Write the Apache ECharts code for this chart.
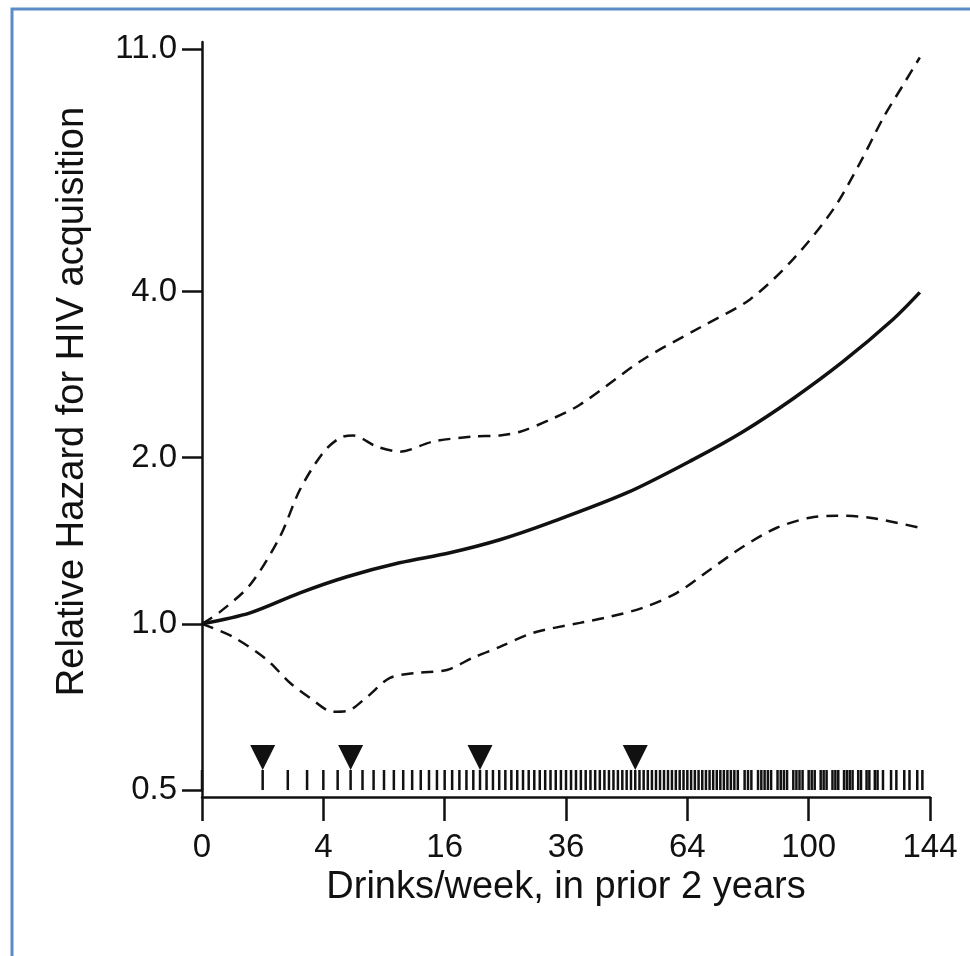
<!DOCTYPE html>
<html><head><meta charset="utf-8">
<script src="https://cdn.jsdelivr.net/npm/echarts@6/dist/echarts.min.js"></script>
<style>html,body{margin:0;padding:0;background:#fff}#c{width:970px;height:956px}</style>
</head><body><div id="c"></div>
<script>
// ---- data (x: drinks/week, y: relative hazard) ----
const xTickValues = [0, 4, 16, 36, 64, 100, 144];
const yTickValues = [0.5, 1, 2, 4, 11];

const solidX = [0, 0.63, 2.61, 5.71, 10.6, 16.7, 24.1, 32.9, 49.1, 65.5, 79.5, 94.9, 111.6, 129.7, 140];
const solidY = [1.0, 1.047, 1.138, 1.217, 1.29, 1.345, 1.42, 1.525, 1.728, 1.984, 2.229, 2.558, 2.985, 3.56, 3.986];

const upperX = [0, 0.088, 0.63, 1.65, 2.61, 3.98, 5.17, 6.19, 8.32, 10.65, 14.5, 19.95, 24.1, 27.5, 32.9, 38.8, 52.8, 67.4, 81.6, 94.9, 108.2, 117.7, 126, 133.5, 140];
const upperY = [1.0, 1.051, 1.177, 1.438, 1.751, 2.042, 2.172, 2.194, 2.094, 2.051, 2.139, 2.184, 2.194, 2.229, 2.343, 2.494, 3.01, 3.443, 3.871, 4.575, 5.63, 6.85, 8.24, 9.46, 10.62];

const lowerX = [0, 0.26, 1.15, 2.10, 3.17, 4.66, 5.71, 7.4, 9.6, 12.6, 16.3, 19.95, 24.1, 29.8, 38.8, 45.2, 52.8, 61.3, 70.1, 79.5, 89.8, 100.4, 109.6, 121.2, 140];
const lowerY = [1.0, 0.947, 0.86, 0.782, 0.734, 0.693, 0.695, 0.737, 0.798, 0.815, 0.825, 0.868, 0.908, 0.963, 1.004, 1.03, 1.069, 1.138, 1.253, 1.379, 1.493, 1.557, 1.57, 1.557, 1.493];

const knotValues = [1, 6, 21, 51];

const rugValues = [0,1,2,3,4,5,6,7,8,9,10,11,12,13,14,15,16,17,18,19,20,21,22,23,24,25,26,27,28,29,30,
  31,32,33,34,35,36,37,38,39,40,41,42,43,44,45,46,47,48,49,50,51,52,53,54,55,56,57,58,59,60,
  61,62,63,64,65,66,67,68,69,70,71,72,73,74,75,76,77,78,80,81,82,84,85,86,87,88,90,91,92,93,
  95,96,97,98,100,101,102,104,105,106,108,109,110,112,113,114,115,117,118,120,121,123,124,
  126,129,131,134,136,139,141];

// ---- build ----
const Y_MIN = 0.4855, Y_MAX = 11.33;
const pair = (xs, ys) => xs.map((x, i) => [Math.sqrt(x), ys[i]]);
const FONT = 'Liberation Sans, Arial, Helvetica, sans-serif';
const BLACK = '#111';

const chart = echarts.init(document.getElementById('c'), null, {renderer: 'canvas'});
chart.setOption({
  animation: false,
  backgroundColor: '#fff',
  grid: {left: 202, right: 40, top: 42, bottom: 159, containLabel: false},
  xAxis: {
    type: 'value', min: 0, max: 12,
    axisLine: {lineStyle: {color: BLACK, width: 2.5}},
    axisTick: {show: true, length: 24, lineStyle: {color: BLACK, width: 2.5},
               customValues: xTickValues.map(Math.sqrt)},
    axisLabel: {customValues: xTickValues.map(Math.sqrt), margin: 34,
                formatter: v => String(Math.round(v * v)),
                color: BLACK, fontSize: 33, fontFamily: FONT},
    splitLine: {show: false},
    name: 'Drinks/week, in prior 2 years', nameLocation: 'middle', nameGap: 69,
    nameTextStyle: {color: BLACK, fontSize: 38, fontFamily: FONT}
  },
  yAxis: {
    type: 'log', logBase: 2, min: Y_MIN, max: Y_MAX,
    axisLine: {show: true, lineStyle: {color: BLACK, width: 2.5}},
    axisTick: {show: true, length: 20, lineStyle: {color: BLACK, width: 2.5},
               customValues: yTickValues},
    axisLabel: {customValues: yTickValues, margin: 25,
                formatter: v => Number(v).toFixed(1),
                color: BLACK, fontSize: 33, fontFamily: FONT},
    splitLine: {show: false},
    name: 'Relative Hazard for HIV acquisition', nameLocation: 'middle', nameGap: 110,
    nameRotate: 90,
    nameTextStyle: {color: BLACK, fontSize: 38, fontFamily: FONT, padding: [0, 0, 0, 36]}
  },
  graphic: [{
    type: 'rect', shape: {x: 12, y: 9, width: 1100, height: 1100},
    style: {fill: 'none', stroke: '#5b8cc8', lineWidth: 3}, silent: true
  }],
  series: [
    {type: 'line', data: pair(upperX, upperY), smooth: 0.3, symbol: 'none',
     lineStyle: {color: BLACK, width: 2.5, type: [12, 8]}},
    {type: 'line', data: pair(lowerX, lowerY), smooth: 0.3, symbol: 'none',
     lineStyle: {color: BLACK, width: 2.5, type: [12, 8]}},
    {type: 'line', data: pair(solidX, solidY), smooth: 0.3, symbol: 'none',
     lineStyle: {color: BLACK, width: 3.5}},
    {type: 'custom', clip: false, data: rugValues.map(v => [Math.sqrt(v), Y_MIN]),
     renderItem: (params, api) => {
       const p = api.coord([api.value(0), Y_MIN]);
       return {type: 'line', shape: {x1: p[0], y1: p[1] - 27, x2: p[0], y2: p[1] - 7},
               style: {stroke: BLACK, lineWidth: 2.5}};
     }},
    {type: 'custom', clip: false, data: knotValues.map(v => [Math.sqrt(v), Y_MIN]),
     renderItem: (params, api) => {
       const p = api.coord([api.value(0), Y_MIN]);
       return {type: 'polygon',
               shape: {points: [[p[0] - 12.5, p[1] - 52], [p[0] + 12.5, p[1] - 52], [p[0], p[1] - 27]]},
               style: {fill: BLACK}};
     }}
  ]
});
</script></body></html>
